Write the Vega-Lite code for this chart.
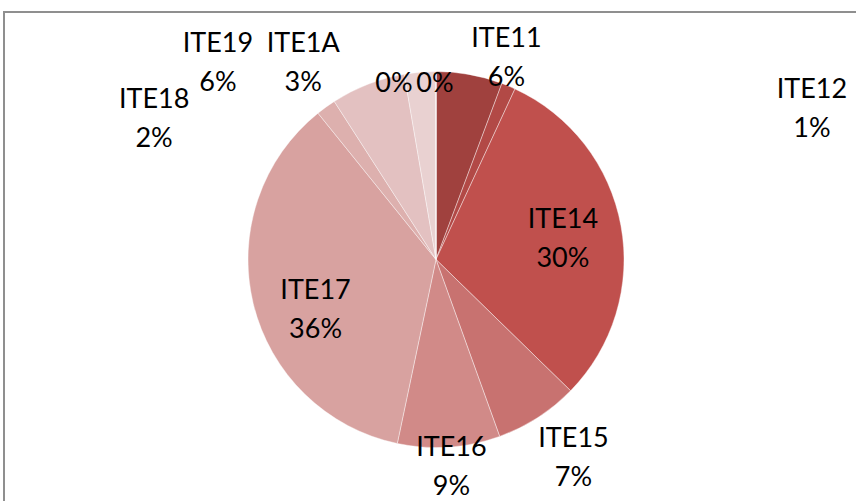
{
  "$schema": "https://vega.github.io/schema/vega-lite/v6.json",
  "autosize": {"type": "none"},
  "width": 864,
  "height": 495,
  "padding": {"left": 4, "top": 12, "right": 0, "bottom": 0},
  "background": "#ffffff",
  "view": {"stroke": "#8f8f8f", "strokeWidth": 2, "fill": "#ffffff"},
  "config": {
    "view": {"stroke": "#8f8f8f", "strokeWidth": 2},
    "style": {"cell": {"stroke": "#8f8f8f", "strokeWidth": 2}},
    "text": {"font": "Lato", "fontSize": 27, "lineHeight": 39, "lineBreak": "\n", "color": "#000000"}
  },
  "data": {
    "values": [
      {"cat": "ITE11", "value": 5.7, "label": "ITE11\n6%"},
      {"cat": "ITE12", "value": 1.2, "label": "ITE12\n1%"},
      {"cat": "ITE14", "value": 30.4, "label": "ITE14\n30%"},
      {"cat": "ITE15", "value": 7.2, "label": "ITE15\n7%"},
      {"cat": "ITE16", "value": 8.8, "label": "ITE16\n9%"},
      {"cat": "ITE17", "value": 35.9, "label": "ITE17\n36%"},
      {"cat": "ITE18", "value": 1.7, "label": "ITE18\n2%"},
      {"cat": "ITE19", "value": 6.4, "label": "ITE19\n6%"},
      {"cat": "ITE1A", "value": 2.7, "label": "ITE1A\n3%"},
      {"cat": "ITE1B", "value": 0, "label": "0%"},
      {"cat": "ITE1C", "value": 0, "label": "0%"}
    ]
  },
  "transform": [
    {"stack": "value", "groupby": [], "sort": [{"field": "cat", "order": "ascending"}], "as": ["v0", "v1"]},
    {"calculate": "(datum.v0 + datum.v1) / 2", "as": "mid"}
  ],
  "layer": [
    {
      "mark": {"type": "arc", "radius": 188, "stroke": "#ffffff", "strokeWidth": 0.8, "strokeOpacity": 0.5},
      "encoding": {
        "theta": {"field": "v0", "type": "quantitative", "scale": {"domain": [0, 100]}},
        "theta2": {"field": "v1"},
        "color": {
          "field": "cat", "type": "nominal", "legend": null,
          "scale": {
            "domain": ["ITE11", "ITE12", "ITE14", "ITE15", "ITE16", "ITE17", "ITE18", "ITE19", "ITE1A", "ITE1B", "ITE1C"],
            "range": ["#A0413E", "#B24946", "#C0504D", "#C87270", "#D18A88", "#D8A2A0", "#DDB0AE", "#E3C1C1", "#E9D1D1", "#EDDADA", "#F0E0E0"]
          }
        }
      }
    },
    {"transform": [{"filter": "datum.cat === 'ITE11'"}], "mark": {"type": "text", "radius": 210, "dx": 33, "dy": -14},
     "encoding": {"theta": {"field": "mid", "type": "quantitative", "scale": {"domain": [0, 100]}}, "text": {"field": "label"}}},
    {"transform": [{"filter": "datum.cat === 'ITE12'"}], "mark": {"type": "text", "radius": 210, "dx": 295, "dy": 24},
     "encoding": {"theta": {"field": "mid", "type": "quantitative", "scale": {"domain": [0, 100]}}, "text": {"field": "label"}}},
    {"transform": [{"filter": "datum.cat === 'ITE14'"}], "mark": {"type": "text", "radius": 129, "dx": 0, "dy": -16},
     "encoding": {"theta": {"field": "mid", "type": "quantitative", "scale": {"domain": [0, 100]}}, "text": {"field": "label"}}},
    {"transform": [{"filter": "datum.cat === 'ITE15'"}], "mark": {"type": "text", "radius": 243, "dx": 6, "dy": -25},
     "encoding": {"theta": {"field": "mid", "type": "quantitative", "scale": {"domain": [0, 100]}}, "text": {"field": "label"}}},
    {"transform": [{"filter": "datum.cat === 'ITE16'"}], "mark": {"type": "text", "radius": 209, "dx": 1, "dy": -20},
     "encoding": {"theta": {"field": "mid", "type": "quantitative", "scale": {"domain": [0, 100]}}, "text": {"field": "label"}}},
    {"transform": [{"filter": "datum.cat === 'ITE17'"}], "mark": {"type": "text", "radius": 129, "dx": 5, "dy": 1},
     "encoding": {"theta": {"field": "mid", "type": "quantitative", "scale": {"domain": [0, 100]}}, "text": {"field": "label"}}},
    {"transform": [{"filter": "datum.cat === 'ITE18'"}], "mark": {"type": "text", "radius": 210, "dx": -159, "dy": 11},
     "encoding": {"theta": {"field": "mid", "type": "quantitative", "scale": {"domain": [0, 100]}}, "text": {"field": "label"}}},
    {"transform": [{"filter": "datum.cat === 'ITE19'"}], "mark": {"type": "text", "radius": 210, "dx": -142, "dy": -20},
     "encoding": {"theta": {"field": "mid", "type": "quantitative", "scale": {"domain": [0, 100]}}, "text": {"field": "label"}}},
    {"transform": [{"filter": "datum.cat === 'ITE1A'"}], "mark": {"type": "text", "radius": 210, "dx": -115, "dy": -6},
     "encoding": {"theta": {"field": "mid", "type": "quantitative", "scale": {"domain": [0, 100]}}, "text": {"field": "label"}}},
    {"transform": [{"filter": "datum.cat === 'ITE1B'"}], "mark": {"type": "text", "radius": 176, "dx": -42, "dy": 0},
     "encoding": {"theta": {"field": "mid", "type": "quantitative", "scale": {"domain": [0, 100]}}, "text": {"field": "label"}}},
    {"transform": [{"filter": "datum.cat === 'ITE1C'"}], "mark": {"type": "text", "radius": 176, "dx": -1, "dy": 0},
     "encoding": {"theta": {"field": "mid", "type": "quantitative", "scale": {"domain": [0, 100]}}, "text": {"field": "label"}}}
  ]
}
